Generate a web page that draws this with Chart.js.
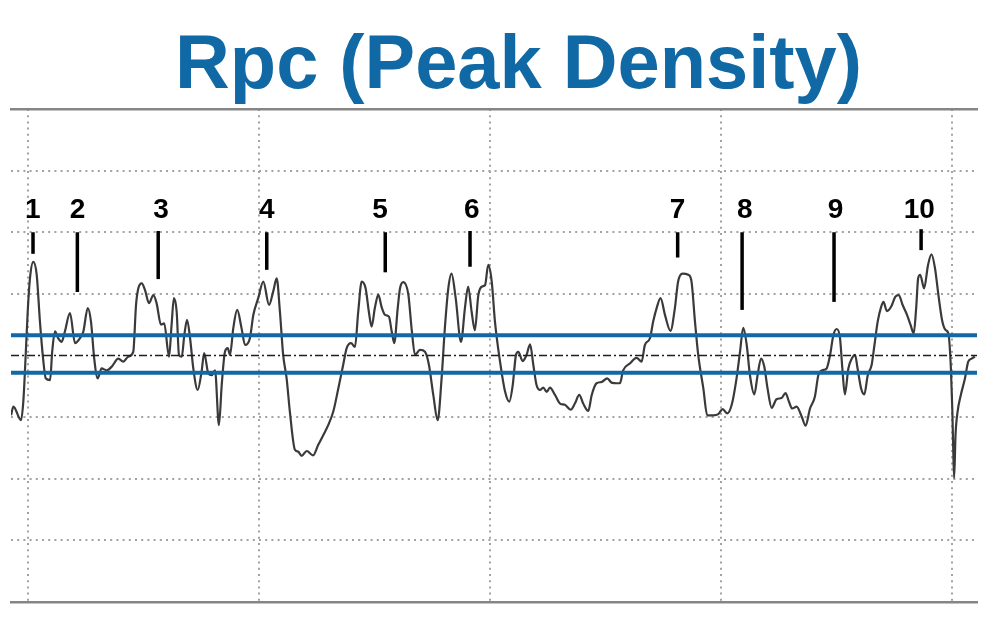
<!DOCTYPE html>
<html>
<head>
<meta charset="utf-8">
<script src="https://cdn.jsdelivr.net/npm/chart.js@4/dist/chart.umd.min.js"></script>
<style>
  html, body { margin: 0; padding: 0; background: #ffffff; }
  canvas { display: block; }
</style>
</head>
<body>
<canvas id="c" width="1000" height="640"></canvas>
<script>
// ---------- data ----------
const titleText = 'Rpc (Peak Density)';

const traceX = [-7.2,-6.2,-2.9,-1.9,-1.2,0,1.0,2.4,3.9,5.3,6.8,7.8,9.7,10.6,11.8,13.2,14.7,16.1,18.3,20.5,22.6,24.1,26.0,27.4,28.8,30.3,32.0,34.2,36.4,39.2,41.4,43.5,45.7,46.9,47.9,49.4,50.8,52.5,54.4,55.8,57.7,59.1,61.2,62.3,63.3,64.5,65.5,66.7,67.8,69.0,70.3,71.7,73.6,75.3,76.4,78.2,79.7,81.1,82.8,84.0,85.4,86.6,87.6,89.0,90.7,92.6,94.1,96.2,
97.7,99.8,102.0,104.5,106.3,107.8,109.2,110.6,112.1,113.5,115.7,117.1,118.6,120.8,123.6,125.8,128.0,130.1,132.3,134.5,136.6,138.1,140.0,141.7,143.1,144.6,146.3,147.7,148.9,150.3,151.8,153.2,154.7,156.4,157.6,158.7,160.2,161.2,162.6,164.8,166.2,167.7,169.8,172.0,173.7,175.6,177.5,179.2,180.6,182.1,183.5,185.3,187.6,189.3,190.7,192.2,193.6,195.1,196.8,198.0,199.4,200.9,202.3,
204.5,206.7,208.5,210.0,211.4,212.4,214.3,216.0,217.5,218.9,220.3,221.8,223.2,224.7,226.1,228.3,230.5,232.6,235.1,236.9,238.8,240.5,242.7,244.2,246.3,248.5,250.9,252.8,255.0,256.4,257.8,260.7,263.6,265.8,267.2,269.4,270.8,272.3,274.0,275.9,278.3,280.2,281.6,283.5,286.0,287.4,288.9,290.3,292.5,294.2,296.8,299.0,300.9,302.9,304.8,306.9,308.4,
309.8,311.3,312.7,314.6,316.0,317.5,318.9,320.3,322.1,324.2,326.4,328.1,329.6,331.0,332.9,335.1,336.8,338.7,340.8,342.3,344.0,345.9,347.4,348.8,350.3,351.7,352.7,353.8,355.3,356.8,358.2,359.3,360.8,362.2,363.7,365.4,366.6,368.0,369.5,370.5,372.0,373.8,375.6,377.1,378.8,380.7,382.2,383.6,384.7,385.5,386.4,388.1,389.8,391.3,392.8,394.3,396.0,397.5,398.6,399.7,400.3,400.7,401.1,401.7,402.6,404.0,405.8,407.2,408.7,410.1];

const traceY = [-0.97,-0.83,-1.05,-0.75,-0.26,0.71,1.26,1.52,1.31,0.55,-0.10,-0.37,-0.40,0.06,0.39,0.28,0.22,0.39,0.69,0.20,0.28,0.39,0.77,0.55,-0.05,-0.37,-0.21,-0.24,-0.18,-0.05,-0.10,-0.02,0.06,0.82,1.09,1.17,1.06,0.85,0.98,0.85,0.50,0.52,-0.02,0.50,0.93,0.71,0.01,-0.02,0.33,0.58,0.28,-0.21,-0.56,-0.26,0.04,-0.29,-0.32,-0.24,-1.13,-0.48,0.06,0.12,0.01,0.44,0.74,0.44,0.17,0.28,
0.66,0.93,1.20,0.82,1.04,1.25,0.71,0.01,-0.37,-0.91,-1.53,-1.56,-1.63,-1.55,-1.62,-1.45,-1.29,-1.13,-0.91,-0.53,-0.15,0.12,0.20,0.14,0.71,1.20,1.09,0.71,0.47,0.77,0.99,0.79,0.66,0.63,0.39,0.20,0.77,1.09,1.19,0.99,0.44,0.01,0.09,0.06,-0.15,-0.64,-1.05,-0.37,0.44,1.09,1.33,0.93,0.22,0.77,1.12,0.71,0.41,0.98,1.12,1.14,1.47,1.20,0.55,
-0.10,-0.59,-0.75,-0.48,0.01,0.06,-0.09,0.01,0.18,-0.15,-0.48,-0.56,-0.52,-0.59,-0.52,-0.64,-0.78,-0.80,-0.88,-0.78,-0.64,-0.78,-0.90,-0.64,-0.45,-0.43,-0.37,-0.44,-0.45,-0.45,-0.24,-0.13,-0.04,-0.10,0.17,0.28,0.55,0.77,0.93,0.66,0.40,0.77,1.20,1.33,1.31,1.20,0.55,0.01,-0.53,-0.97,-0.97,-0.95,-0.87,-0.94,-0.80,-0.37,0.06,
0.45,0.17,-0.32,-0.63,-0.32,-0.05,-0.18,-0.53,-0.85,-0.71,-0.69,-0.61,-0.75,-0.86,-0.83,-0.99,-1.14,-0.86,-0.67,-0.32,-0.24,-0.21,0.01,0.33,0.43,0.28,-0.21,-0.63,-0.21,-0.05,0.01,-0.21,-0.53,-0.63,-0.32,-0.15,0.17,0.55,0.79,0.87,0.72,0.79,0.95,0.98,0.82,0.66,0.50,0.36,0.79,1.25,1.31,1.09,1.47,1.64,1.42,0.98,0.55,0.41,0.36,-0.21,-0.86,-1.51,-1.99,-1.29,-0.91,-0.64,-0.37,-0.10,-0.05,-0.02];

// axis extent and gridlines
const xMin = -7.23, xMax = 411.0;
const xGridTicks = [0, 100, 200, 300, 400];
const yMin = -4, yMax = 4;

// reference levels
const meanLevel = 0;
const upperBand = 0.33;
const lowerBand = -0.28;

// numbered peak markers
const peakLabels = ['1','2','3','4','5','6','7','8','9','10'];
const peakLabelX = [2.2, 21.6, 57.7, 103.5, 152.5, 192.3, 281.4, 310.5, 349.8, 386.0];
const peakTickX  = [2.3, 21.5, 56.5, 103.5, 154.8, 191.5, 281.4, 309.3, 349.1, 386.8];
const peakTickTop    = [2.0, 2.0, 2.02, 2.0, 2.0, 2.02, 2.0, 2.0, 2.0, 2.05];
const peakTickBottom = [1.65, 1.03, 1.24, 1.39, 1.35, 1.44, 1.59, 0.74, 0.87, 1.71];
const peakLabelLevel = 2.23;

// ---------- styles ----------
const BLUE = '#1069a4';
const GRID = '#a2a2a2';
const FRAME = '#858585';

const tracePoints = traceX.map((x, i) => ({ x: x, y: traceY[i] }));
const flat = v => [{ x: xMin, y: v }, { x: xMax, y: v }];

const titlePlugin = {
  id: 'bigTitle',
  afterDraw(chart) {
    const ctx = chart.ctx;
    ctx.save();
    let size = 76;
    ctx.font = 'bold ' + size + 'px "Liberation Sans", Arial, sans-serif';
    const w = ctx.measureText(titleText).width;
    size = size * 687 / w;
    ctx.font = 'bold ' + size.toFixed(2) + 'px "Liberation Sans", Arial, sans-serif';
    ctx.fillStyle = BLUE;
    ctx.textAlign = 'center';
    ctx.textBaseline = 'alphabetic';
    ctx.fillText(titleText, 518.5, 88);
    ctx.restore();
  }
};

const peakPlugin = {
  id: 'peaks',
  afterDatasetsDraw(chart) {
    const ctx = chart.ctx;
    const xs = chart.scales.x, ys = chart.scales.y;
    ctx.save();
    ctx.fillStyle = '#000';
    ctx.strokeStyle = '#000';
    ctx.lineWidth = 3.5;
    ctx.font = 'bold 28px "Liberation Sans", Arial, sans-serif';
    ctx.textAlign = 'center';
    ctx.textBaseline = 'alphabetic';
    peakLabels.forEach((lab, i) => {
      ctx.fillText(lab, xs.getPixelForValue(peakLabelX[i]), ys.getPixelForValue(peakLabelLevel));
      const tx = xs.getPixelForValue(peakTickX[i]);
      ctx.beginPath();
      ctx.moveTo(tx, ys.getPixelForValue(peakTickTop[i]));
      ctx.lineTo(tx, ys.getPixelForValue(peakTickBottom[i]));
      ctx.stroke();
    });
    ctx.restore();
  }
};

new Chart(document.getElementById('c'), {
  type: 'line',
  data: {
    datasets: [
      { data: flat(upperBand), borderColor: BLUE, borderWidth: 4, pointRadius: 0, fill: false },
      { data: flat(lowerBand), borderColor: BLUE, borderWidth: 4, pointRadius: 0, fill: false },
      { data: flat(meanLevel), borderColor: '#1e1e1e', borderWidth: 1.6, borderDash: [8, 3, 2, 3], pointRadius: 0, fill: false },
      { data: tracePoints, borderColor: '#3a3a3a', borderWidth: 2.2, pointRadius: 0, fill: false,
        cubicInterpolationMode: 'monotone' }
    ]
  },
  options: {
    responsive: false,
    animation: false,
    events: [],
    layout: { padding: { left: 11, right: 23, top: 109, bottom: 38 } },
    plugins: { legend: { display: false }, tooltip: { enabled: false }, title: { display: false } },
    scales: {
      x: {
        type: 'linear', position: 'bottom', min: xMin, max: xMax,
        afterBuildTicks: s => { s.ticks = xGridTicks.map(v => ({ value: v })); },
        ticks: { display: false },
        grid: { color: GRID, lineWidth: 2, drawTicks: false },
        border: { display: true, color: FRAME, width: 2.5, dash: [2, 4.2] }
      },
      xTop: {
        type: 'linear', position: 'top', min: xMin, max: xMax,
        ticks: { display: false },
        grid: { display: false, drawTicks: false },
        border: { display: true, color: FRAME, width: 2.5 }
      },
      y: {
        type: 'linear', min: yMin, max: yMax,
        ticks: { display: false, stepSize: 1 },
        grid: {
          drawTicks: false, lineWidth: 2,
          color: c => (c.tick && (c.tick.value === 0 || Math.abs(c.tick.value) === 4)) ? 'rgba(0,0,0,0)' : GRID
        },
        border: { display: false, dash: [2, 4.2] }
      }
    }
  },
  plugins: [titlePlugin, peakPlugin]
});
</script>
</body>
</html>
